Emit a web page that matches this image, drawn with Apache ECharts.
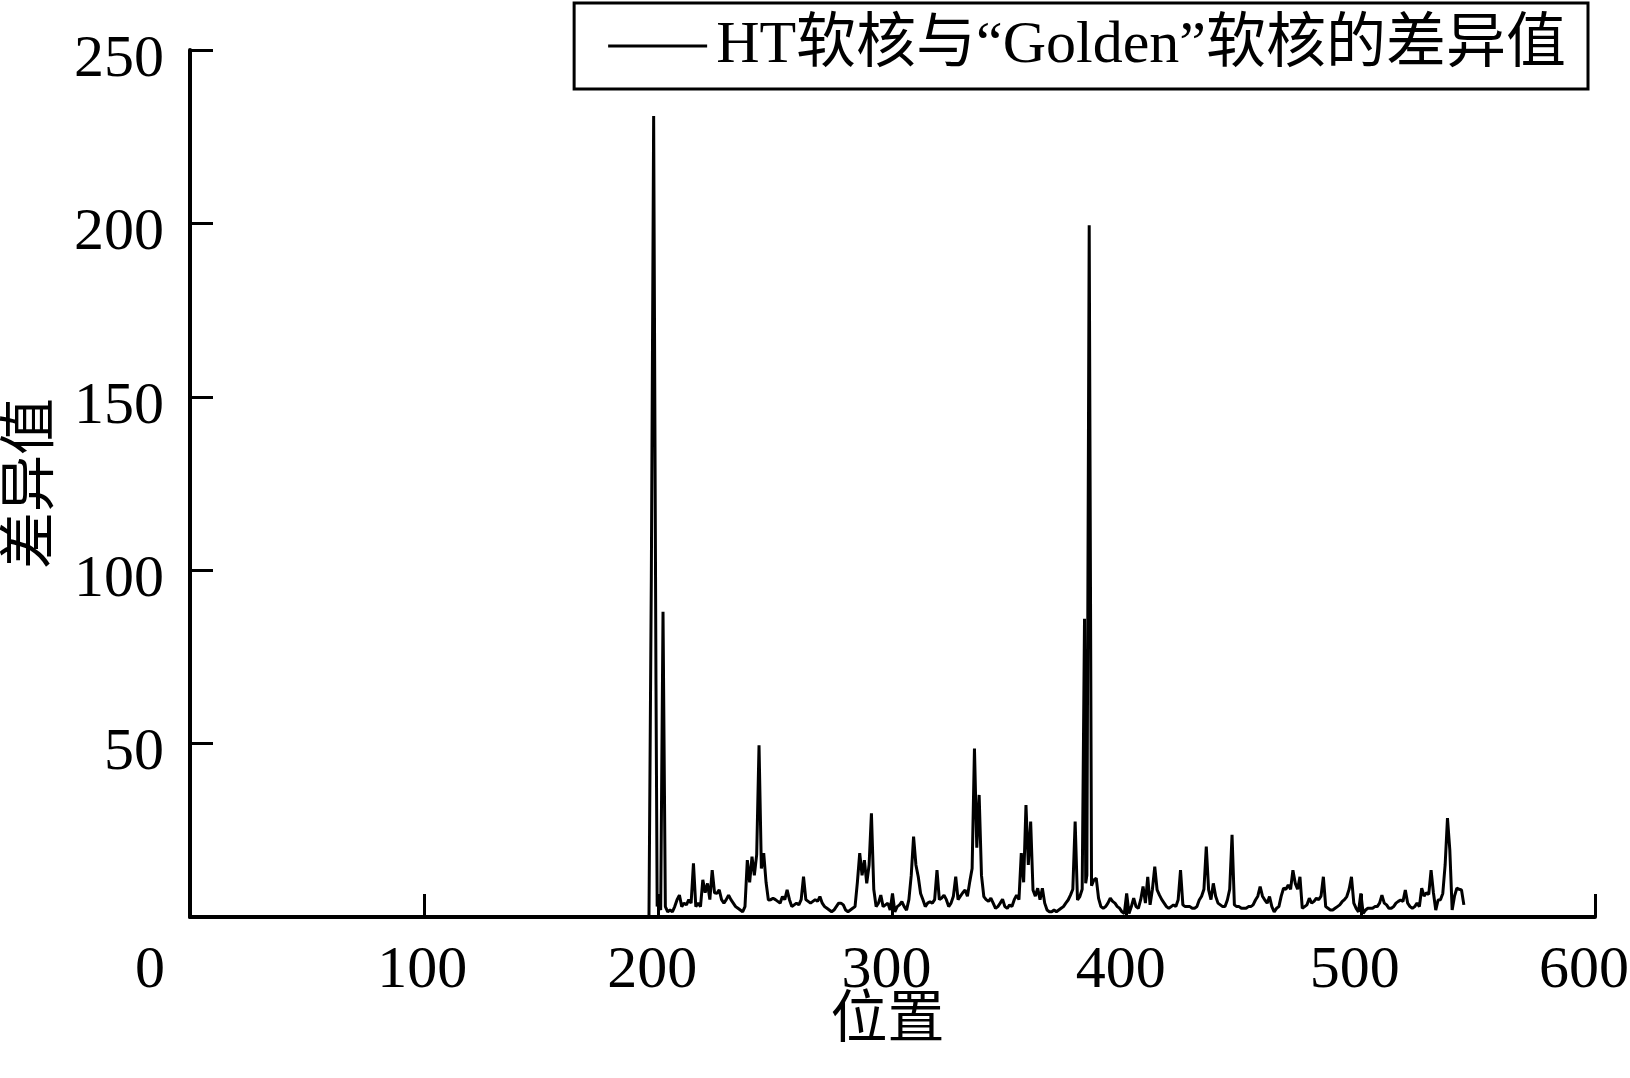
<!DOCTYPE html>
<html>
<head>
<meta charset="utf-8">
<script src="https://cdn.jsdelivr.net/npm/echarts@6/dist/echarts.min.js"></script>
<style>
html,body{margin:0;padding:0;background:#fff;}
#chart{width:1630px;height:1078px;}
</style>
</head>
<body>
<div id="chart"></div>
<script>
// ---- data ----
const seriesName = 'HT软核与“Golden”软核的差异值';
const xAxisName = '位置';
const yAxisName = '差异值';
const xTicks = [0, 100, 200, 300, 400, 500, 600];
const yTicks = [0, 50, 100, 150, 200, 250];

const positions = [
196,197,198,199,199.5,200,201,202,203,204,205,206,207,208,209,210,211,212,213,214,
215,216,217,218,219,220,221,222,223,224,225,226,227,228,229,230,231,232,233,234,
235,236,237,238,239,240,241,242,243,244,245,246,247,248,249,250,251,252,253,254,
255,256,257,258,259,260,261,262,263,264,265,266,267,268,269,270,271,272,273,274,
275,276,277,278,279,280,281,282,283,284,285,286,287,288,289,290,291,292,293,294,
295,296,297,298,299,300,301,302,303,304,305,306,307,308,309,310,311,312,313,314,
315,316,317,318,319,320,321,322,323,324,325,326,327,328,329,330,331,332,333,334,
335,336,337,338,339,340,341,342,343,344,345,346,347,348,349,350,351,352,353,354,
355,356,357,358,359,360,361,362,363,364,365,366,367,368,369,370,371,372,373,374,
375,376,377,378,379,380,381,382,382.5,383,384,385,386,387,388,389,390,391,392,393,
394,395,396,397,398,399,400,401,402,403,404,405,406,407,408,409,410,411,412,413,
414,415,416,417,418,419,420,421,422,423,424,425,426,427,428,429,430,431,432,433,
434,435,436,437,438,439,440,441,442,443,444,445,446,447,448,449,450,451,452,453,
454,455,456,457,458,459,460,461,462,463,464,465,466,467,468,469,470,471,472,473,
474,475,476,477,478,479,480,481,482,483,484,485,486,487,488,489,490,491,492,493,
494,495,496,497,498,499,500,501,502,503,504,505,506,507,508,509,510,511,512,513,
514,515,516,517,518,519,520,521,522,523,524,525,526,527,528,529,530,531,532,533,
534,535,536,537,538,539,540,541,542,543,544
];

const diffValues = [
0,97,231,67,3,5,2,88,3,1.5,2,1.5,3,5,6.3,3,4,3.5,5,4,
15.5,3,4,3,10.7,7,9.7,5,13.5,7,6.8,7.8,5,4,5,6.3,5,4,3,2.5,
2,1.5,3,16.4,10,17.4,12,18,49.5,14,18.4,10,4.9,5,5.4,5,4.5,4,5.9,5,
7.8,5,3,3.5,4,3.5,5,11.6,5,4.5,4,4.5,5,4.5,5.9,4,3,2.5,2,1.5,
2,3,4,4,3.5,2,1.5,2,2.5,3,10,18.4,12,16.4,9.7,15,29.9,8,3,4,
6.3,3,3.5,4,2,6.8,1.5,3,3.5,4.4,3,2,5,12,23.2,15,11.6,6.8,5,3,
4,4.4,4,5,13.5,5,5.5,6.3,5,3,4,6,11.6,5,6,7,7.8,6,10.2,14,
48.6,20,35.2,12,5.9,5,4.5,5.4,4,2.5,3,4,5.1,3,2.5,3.5,3,5,6.3,5,
18.4,10,32.3,15,27.5,7.8,6,8.3,5,8.3,4,2,1.5,1.5,2,1.5,2,2.5,3,4,
4.9,6.3,8,27.5,4.9,5.9,8,86,9.7,12,199.5,9,10.7,11.2,5.4,3,2.5,3,4,5.4,
4.5,4,3,2.5,1.5,1,6.8,1,3,5.4,3,2.5,5,8.8,4,11.6,3.5,8,14.5,7.8,
6.3,5,4,3,2.5,3,3.5,3,5,13.5,3.5,3,3,3,2.5,2.5,3,4.9,6,8,
20.3,7.8,5,9.7,6,4,3.5,3,3,4.9,8,23.7,3.5,3,3,2.5,2.5,2.5,3,3,
3.5,4.9,6,8.8,6,4.9,4,5.9,3,1.5,2.5,3,6,8.3,8,9.2,8,13.5,9.7,8,
11.6,2.5,3,3.5,5.4,4,4.5,5.4,5,6,11.6,3,2.5,2,2,2.5,3,3.5,4.4,5,
5.9,8,11.6,4,2.5,1.5,6.8,1,2,2.5,2.5,2.5,3,3,4,6.3,4,3.5,2.5,2.5,
3,4,4.5,4.9,4.5,7.8,4,3,2.5,3,4,3,8.3,6,7,6.5,13.5,7,2,4.9,
5,6.8,15,28.5,19.3,2,6,8.3,8,7.8,3.5
];

// ---- chart ----
const FONT = "'Liberation Serif', 'Times New Roman', 'Noto Sans CJK SC', serif";
const seriesData = positions.map((p, i) => [p, diffValues[i]]);

const chart = echarts.init(document.getElementById('chart'), null, {renderer: 'canvas'});
chart.setOption({
  animation: false,
  backgroundColor: '#ffffff',
  grid: {left: 190, right: 35, top: 50, bottom: 161, containLabel: false, outerBoundsMode: 'none'},
  legend: {
    show: true,
    right: 42,
    top: 3,
    data: [seriesName],
    icon: 'rect',
    itemWidth: 99,
    itemHeight: 3,
    itemGap: 10,
    padding: [13, 22, 13, 34],
    borderColor: '#000',
    borderWidth: 3,
    textStyle: {fontFamily: FONT, fontSize: 60, color: '#000', padding: [0, 0, 0, 4]},
    itemStyle: {color: '#000'}
  },
  xAxis: {
    type: 'value',
    min: xTicks[0],
    max: xTicks[xTicks.length - 1],
    interval: 100,
    name: xAxisName,
    nameLocation: 'middle',
    nameGap: 77,
    nameMoveOverlap: false,
    nameTextStyle: {fontFamily: FONT, fontSize: 57, color: '#000', padding: [0, 10, 0, 0]},
    axisLine: {show: true, onZero: false, lineStyle: {color: '#000', width: 4}},
    axisTick: {show: true, inside: true, length: 23, lineStyle: {color: '#000', width: 3}},
    axisLabel: {
      fontFamily: FONT, fontSize: 60, color: '#000', margin: 24,
      showMinLabel: true, showMaxLabel: true,
      formatter: function (v) {
        if (v === 0) return '{z|0}';
        if (v === 100) return '{m|' + v + '}';
        if (v === 600) return '{e|' + v + '}';
        return '{n|' + v + '}';
      },
      rich: {
        z: {fontFamily: FONT, fontSize: 60, color: '#000', padding: [0, 80, 0, 0]},
        m: {fontFamily: FONT, fontSize: 60, color: '#000', padding: [0, 4, 0, 0]},
        n: {fontFamily: FONT, fontSize: 60, color: '#000', padding: [0, 12, 0, 0]},
        e: {fontFamily: FONT, fontSize: 60, color: '#000', padding: [0, 22, 0, 0]}
      }
    },
    splitLine: {show: false}
  },
  yAxis: {
    type: 'value',
    min: yTicks[0],
    max: yTicks[yTicks.length - 1],
    interval: 50,
    name: yAxisName,
    nameLocation: 'middle',
    nameGap: 128,
    nameMoveOverlap: false,
    nameRotate: 90,
    nameTextStyle: {fontFamily: FONT, fontSize: 57, color: '#000'},
    axisLine: {show: true, onZero: false, lineStyle: {color: '#000', width: 4}},
    axisTick: {show: true, inside: true, length: 23, lineStyle: {color: '#000', width: 3}},
    axisLabel: {
      fontFamily: FONT, fontSize: 60, color: '#000', margin: 26,
      showMinLabel: false,
      formatter: function (v) { return '{a|' + v + '}'; },
      rich: {a: {fontFamily: FONT, fontSize: 60, color: '#000', padding: [20, 0, 0, 0]}}
    },
    splitLine: {show: false}
  },
  series: [{
    name: seriesName,
    type: 'line',
    data: seriesData,
    symbol: 'none',
    showSymbol: false,
    lineStyle: {color: '#000', width: 3},
    itemStyle: {color: '#000'}
  }]
});
</script>
</body>
</html>
